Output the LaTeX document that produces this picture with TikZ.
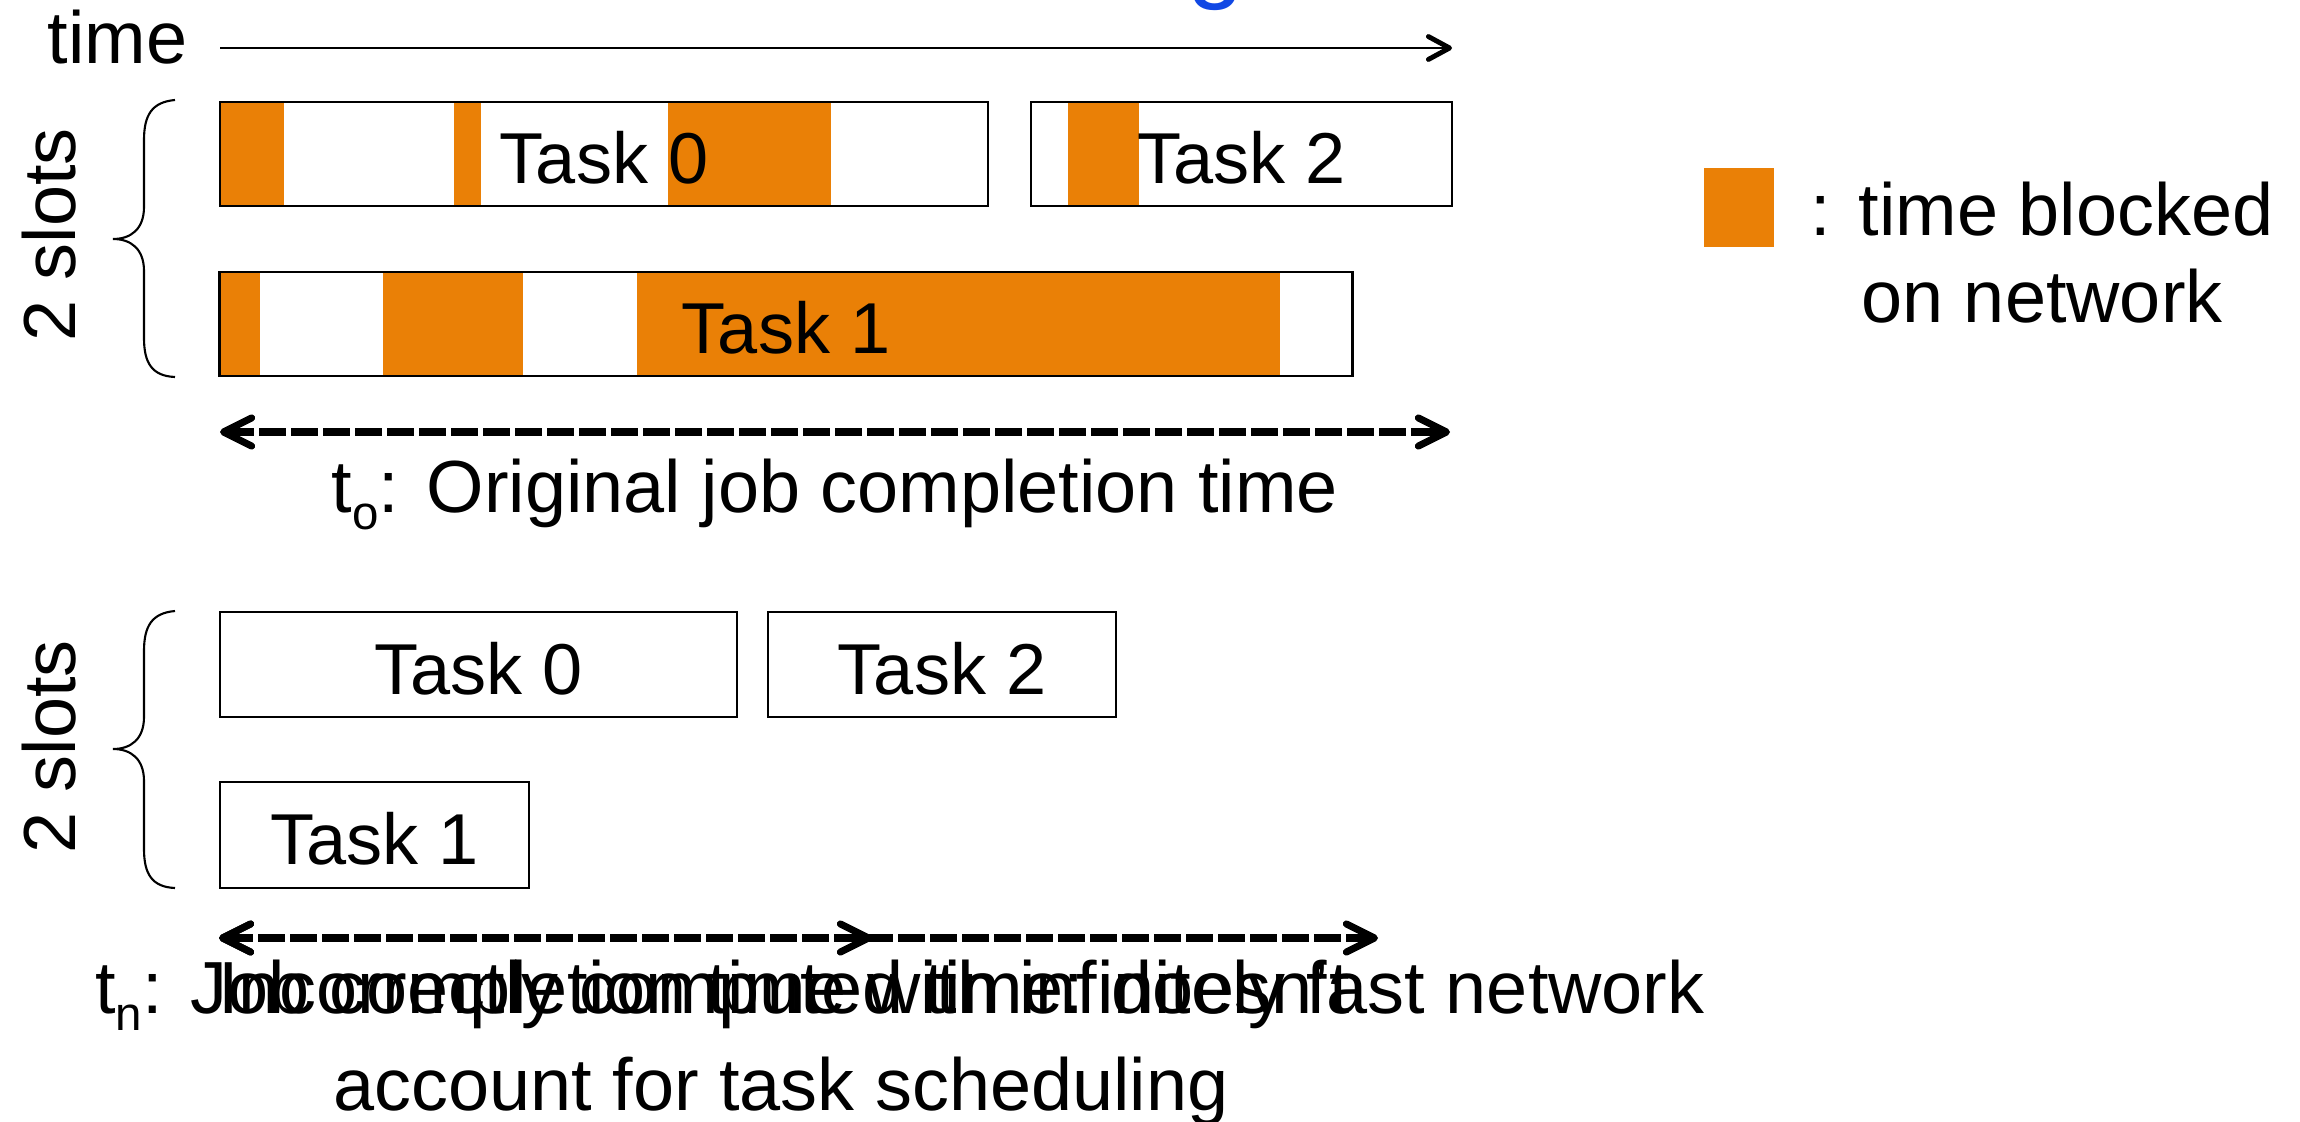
\documentclass[tikz,border=0pt]{standalone}
\usepackage{fontspec}
\setmainfont{Liberation Sans}
\usetikzlibrary{arrows.meta}
\definecolor{netorange}{RGB}{234,128,6}
\definecolor{titleblue}{RGB}{17,72,228}
\newcommand\lowsub[1]{\raisebox{-5pt}{\fontsize{13.5}{14}\selectfont #1}}
\begin{document}
\begin{tikzpicture}[x=0.01cm, y=-0.01cm,
  lbl/.style={inner sep=0pt, font=\fontsize{21}{25}\selectfont},
  taskbox/.style={draw, line width=0.7pt, inner sep=0pt, minimum height=1.04cm,
                  text height=0.59cm, text depth=0pt, font=\fontsize{20.5}{24}\selectfont},
  blocked/.style={fill=netorange},
  curly/.style={line width=0.6pt},
  timearrow/.style={line width=0.75pt,
                    -{Straight Barb[length=6pt,width=6.5pt,line width=1.4pt,round]}},
  spanarrow/.style={line width=2pt, dash pattern=on 7.7pt off 1.4pt,
                    {Straight Barb[length=8pt,width=8pt,round]}-{Straight Barb[length=8pt,width=8pt,round]}}
]
\useasboundingbox (0,0) rectangle (2300,1121);
\clip (0,0) rectangle (2300,1121);

% heading letter running off the top edge
\node[inner sep=0pt, font=\fontsize{29}{30}\selectfont, text=titleblue, anchor=base west] (heading) at (1187,-11) {g};

% time axis
\node[lbl, anchor=base west] (timelbl) at (47,64) {time};
\coordinate (tstart) at (220,48);
\coordinate (tend) at (1452,48);
\draw[timearrow] (tstart) -- (tend);

% ---- original schedule: periods blocked on the network ----
\fill[blocked] (220,102) rectangle (284,206);
\fill[blocked] (454,102) rectangle (481,206);
\fill[blocked] (668,102) rectangle (831,206);
\fill[blocked] (1068,102) rectangle (1139,206);
\fill[blocked] (220,272) rectangle (260,376);
\fill[blocked] (383,272) rectangle (523,376);
\fill[blocked] (637,272) rectangle (1280,376);

\node[taskbox, minimum width=7.68cm] (oT0) at (604,154) {Task 0};
\node[taskbox, minimum width=4.21cm] (oT2) at (1241.5,154) {Task 2};
\node[taskbox, minimum width=11.32cm] (oT1) at (786,324) {Task 1};

\draw[curly] (175,100) .. controls (152,102) and (144,115) .. (144,140) -- (144,207)
  .. controls (144,229) and (131,239) .. (113,239)
  .. controls (131,239) and (144,249) .. (144,271) -- (144,338)
  .. controls (144,363) and (152,376) .. (175,377);
\node[lbl, rotate=90, anchor=base] (slotsA) at (75,235) {2 slots};

\coordinate (oL) at (220,432);
\coordinate (oR) at (1450,432);
\draw[spanarrow] (oL) -- (oR);
\node[lbl, anchor=base] (tolbl) at (835,512) {t\lowsub{o}: Original job completion time};

% ---- schedule with an infinitely fast network ----
\node[taskbox, minimum width=5.17cm, minimum height=1.05cm] (nT0) at (478.5,664.5) {Task 0};
\node[taskbox, minimum width=3.48cm, minimum height=1.05cm] (nT2) at (942,664.5) {Task 2};
\node[taskbox, minimum width=3.09cm, minimum height=1.06cm] (nT1) at (374.5,835) {Task 1};

\draw[curly] (175,611) .. controls (152,613) and (144,626) .. (144,651) -- (144,717)
  .. controls (144,739) and (131,749) .. (113,749)
  .. controls (131,749) and (144,759) .. (144,781) -- (144,849)
  .. controls (144,874) and (152,887) .. (175,888);
\node[lbl, rotate=90, anchor=base] (slotsB) at (75,747) {2 slots};

\coordinate (nL) at (219,938);
\coordinate (nM) at (872,938);
\coordinate (nR) at (1378,938);
\draw[spanarrow] (nL) -- (nR);
\draw[spanarrow] (nL) -- (nM);

\node[lbl, anchor=base] (tnlbl) at (900,1013) {t\lowsub{n}: Job completion time with infinitely fast network};
\node[lbl, anchor=base] (inclblA) at (784,1013) {Incorrectly computed time: doesn't};
\node[lbl, anchor=base] (inclblB) at (781,1110) {account for task scheduling};

% ---- key ----
\node[blocked, inner sep=0pt, minimum width=0.70cm, minimum height=0.79cm] (key) at (1739,207.5) {};
\node[lbl, anchor=base] (keyA) at (2042,235) {: time blocked};
\node[lbl, anchor=base] (keyB) at (2042,322) {on network};
\end{tikzpicture}
\end{document}
